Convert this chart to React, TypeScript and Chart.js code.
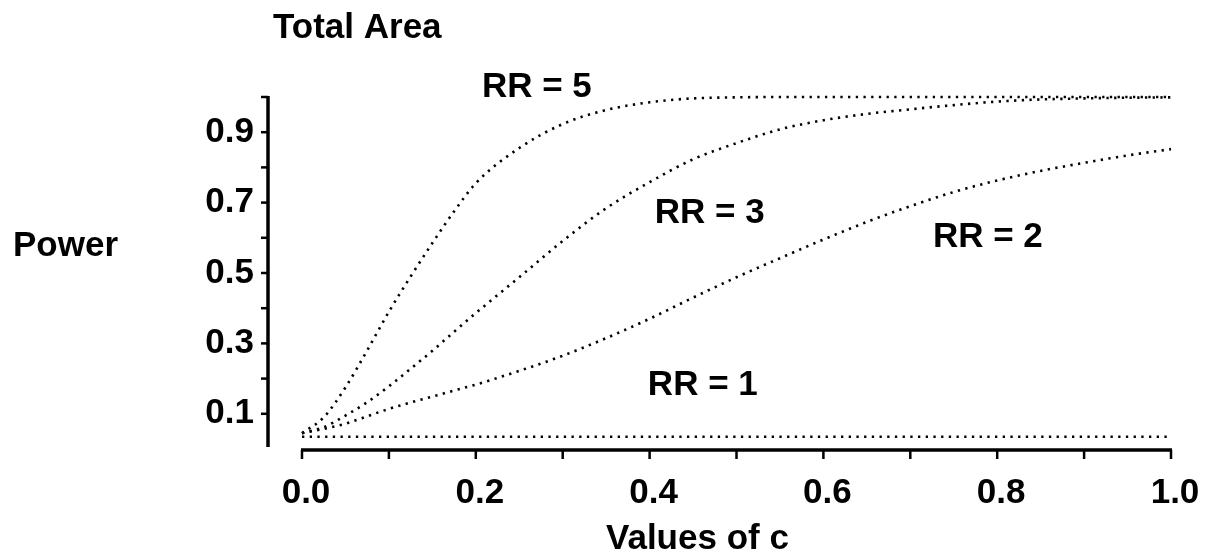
import React, { useEffect, useRef } from "react";
import { Chart, registerables } from "chart.js";

Chart.register(...registerables);

// ---- data ----
const cValues = [0, 0.025, 0.05, 0.075, 0.1, 0.125, 0.15, 0.175, 0.2, 0.25, 0.3, 0.35, 0.4, 0.45, 0.5, 0.55, 0.6, 0.65, 0.7, 0.75, 0.8, 0.85, 0.9, 0.95, 1.0];
const powerRR5 = [0.045, 0.09, 0.175, 0.28, 0.39, 0.49, 0.585, 0.675, 0.755, 0.855, 0.923, 0.963, 0.985, 0.996, 0.999, 1, 1, 1, 1, 1, 1, 1, 1, 1, 1];
const powerRR3 = [0.045, 0.062, 0.095, 0.133, 0.178, 0.228, 0.279, 0.333, 0.386, 0.488, 0.591, 0.684, 0.758, 0.823, 0.869, 0.908, 0.934, 0.952, 0.965, 0.977, 0.987, 0.993, 0.996, 0.998, 0.999];
const powerRR2 = [0.045, 0.057, 0.072, 0.093, 0.114, 0.132, 0.149, 0.166, 0.183, 0.222, 0.265, 0.315, 0.37, 0.43, 0.488, 0.542, 0.595, 0.645, 0.69, 0.73, 0.763, 0.79, 0.813, 0.834, 0.852];
const powerRR1 = [0.035, 0.035, 0.035, 0.035, 0.035, 0.035, 0.035, 0.035, 0.035, 0.035, 0.035, 0.035, 0.035, 0.035, 0.035, 0.035, 0.035, 0.035, 0.035, 0.035, 0.035, 0.035, 0.035, 0.035, 0.035];
const seriesNames = ["RR = 5", "RR = 3", "RR = 2", "RR = 1"];
const xTickValues = [0, 0.1, 0.2, 0.3, 0.4, 0.5, 0.6, 0.7, 0.8, 0.9, 1.0];
const yTickValues = [0.1, 0.2, 0.3, 0.4, 0.5, 0.6, 0.7, 0.8, 0.9, 1.0];
const yLabelledTicks = ["0.1", "0.3", "0.5", "0.7", "0.9"];
const xLabelledTicks = ["0.0", "0.2", "0.4", "0.6", "0.8", "1.0"];
const titleText = "Total Area";
const yTitle = "Power";
const xTitle = "Values of c";

// annotation anchors (data units) for the curve labels: [c, power]
const labelAnchors: [number, number][] = [
  [0.207, 1.027],
  [0.406, 0.67],
  [0.726, 0.601],
  [0.398, 0.182],
];

const FONT = "'Liberation Sans', Arial, Helvetica, sans-serif";
const FONT_SIZE = 35;

function toPoints(values: number[]) {
  return cValues.map((c, i) => ({ x: c, y: values[i] }));
}

const decorPlugin = {
  id: "decor",
  afterDraw(chart: any) {
    const ctx: CanvasRenderingContext2D = chart.ctx;
    const xs = chart.scales.x;
    const ys = chart.scales.y;
    const x0 = xs.getPixelForValue(0);
    const x1 = xs.getPixelForValue(1);
    const y0 = ys.getPixelForValue(0);
    const y1 = ys.getPixelForValue(1);
    const yAxisX = x0 - 34;
    ctx.save();
    ctx.strokeStyle = "#000";
    ctx.lineCap = "butt";
    // y axis
    ctx.lineWidth = 3.5;
    ctx.beginPath();
    ctx.moveTo(yAxisX, y1 - 1);
    ctx.lineTo(yAxisX, y0 - 2);
    ctx.stroke();
    ctx.lineWidth = 2.5;
    for (const v of yTickValues) {
      const py = ys.getPixelForValue(v);
      ctx.beginPath();
      ctx.moveTo(yAxisX, py);
      ctx.lineTo(yAxisX - 7, py);
      ctx.stroke();
    }
    // x axis
    const xAxisY = y0 + 1;
    ctx.lineWidth = 3.5;
    ctx.beginPath();
    ctx.moveTo(x0 - 1, xAxisY);
    ctx.lineTo(x1 + 1, xAxisY);
    ctx.stroke();
    ctx.lineWidth = 2.5;
    for (const v of xTickValues) {
      const px = xs.getPixelForValue(v);
      ctx.beginPath();
      ctx.moveTo(px, xAxisY);
      ctx.lineTo(px, xAxisY + 9);
      ctx.stroke();
    }
    // texts
    ctx.fillStyle = "#000";
    ctx.font = `bold ${FONT_SIZE}px ${FONT}`;
    ctx.textAlign = "left";
    ctx.textBaseline = "alphabetic";
    ctx.fillText(titleText, 273, 38);
    ctx.fillText(yTitle, 13, 256);
    ctx.fillText(xTitle, 606, 549);
    ctx.textBaseline = "middle";
    seriesNames.forEach((name, i) => {
      const [c, p] = labelAnchors[i];
      ctx.fillText(name, xs.getPixelForValue(c), ys.getPixelForValue(p));
    });
    ctx.restore();
  },
};

export default function App() {
  const canvasRef = useRef<HTMLCanvasElement | null>(null);
  useEffect(() => {
    if (!canvasRef.current) return;
    const dotted = {
      borderColor: "#000",
      borderWidth: 2.6,
      borderDash: [2.3, 5.4],
      pointRadius: 0,
      fill: false,
      cubicInterpolationMode: "monotone" as const,
      clip: false as const,
    };
    const chart = new Chart(canvasRef.current, {
      type: "line",
      data: {
        datasets: [
          { label: seriesNames[0], data: toPoints(powerRR5), ...dotted },
          { label: seriesNames[1], data: toPoints(powerRR3), ...dotted },
          { label: seriesNames[2], data: toPoints(powerRR2), ...dotted },
          { label: seriesNames[3], data: toPoints(powerRR1), ...dotted },
        ],
      },
      options: {
        animation: false,
        responsive: true,
        maintainAspectRatio: false,
        layout: { padding: { top: 97, right: 39, left: 0, bottom: 0 } },
        plugins: { legend: { display: false }, tooltip: { enabled: false } },
        scales: {
          x: {
            type: "linear",
            min: 0,
            max: 1,
            border: { display: false },
            grid: { display: false, drawTicks: false },
            afterFit: (s: any) => {
              s.height = 107;
              s.paddingLeft = 0;
              s.paddingRight = 0;
            },
            ticks: {
              stepSize: 0.1,
              padding: 23,
              labelOffset: 4,
              color: "#000",
              font: { size: FONT_SIZE, weight: "bold", family: FONT },
              maxRotation: 0,
              autoSkip: false,
              callback: (v: any) => {
                const i = Math.round(Number(v) * 10);
                return i % 2 === 0 ? xLabelledTicks[i / 2] : "";
              },
            },
          },
          y: {
            type: "linear",
            min: 0,
            max: 1,
            border: { display: false },
            grid: { display: false, drawTicks: false },
            afterFit: (s: any) => {
              s.width = 302;
              s.paddingTop = 0;
              s.paddingBottom = 0;
            },
            ticks: {
              stepSize: 0.1,
              padding: 48,
              color: "#000",
              font: { size: FONT_SIZE, weight: "bold", family: FONT },
              autoSkip: false,
              callback: (v: any) => {
                const i = Math.round(Number(v) * 10);
                return i % 2 === 1 ? yLabelledTicks[(i - 1) / 2] : "";
              },
            },
          },
        },
      },
      plugins: [decorPlugin],
    });
    return () => chart.destroy();
  }, []);
  return (
    <div style={{ position: "fixed", left: 0, top: 0, width: 1210, height: 556, background: "#fff" }}>
      <canvas ref={canvasRef} />
    </div>
  );
}
